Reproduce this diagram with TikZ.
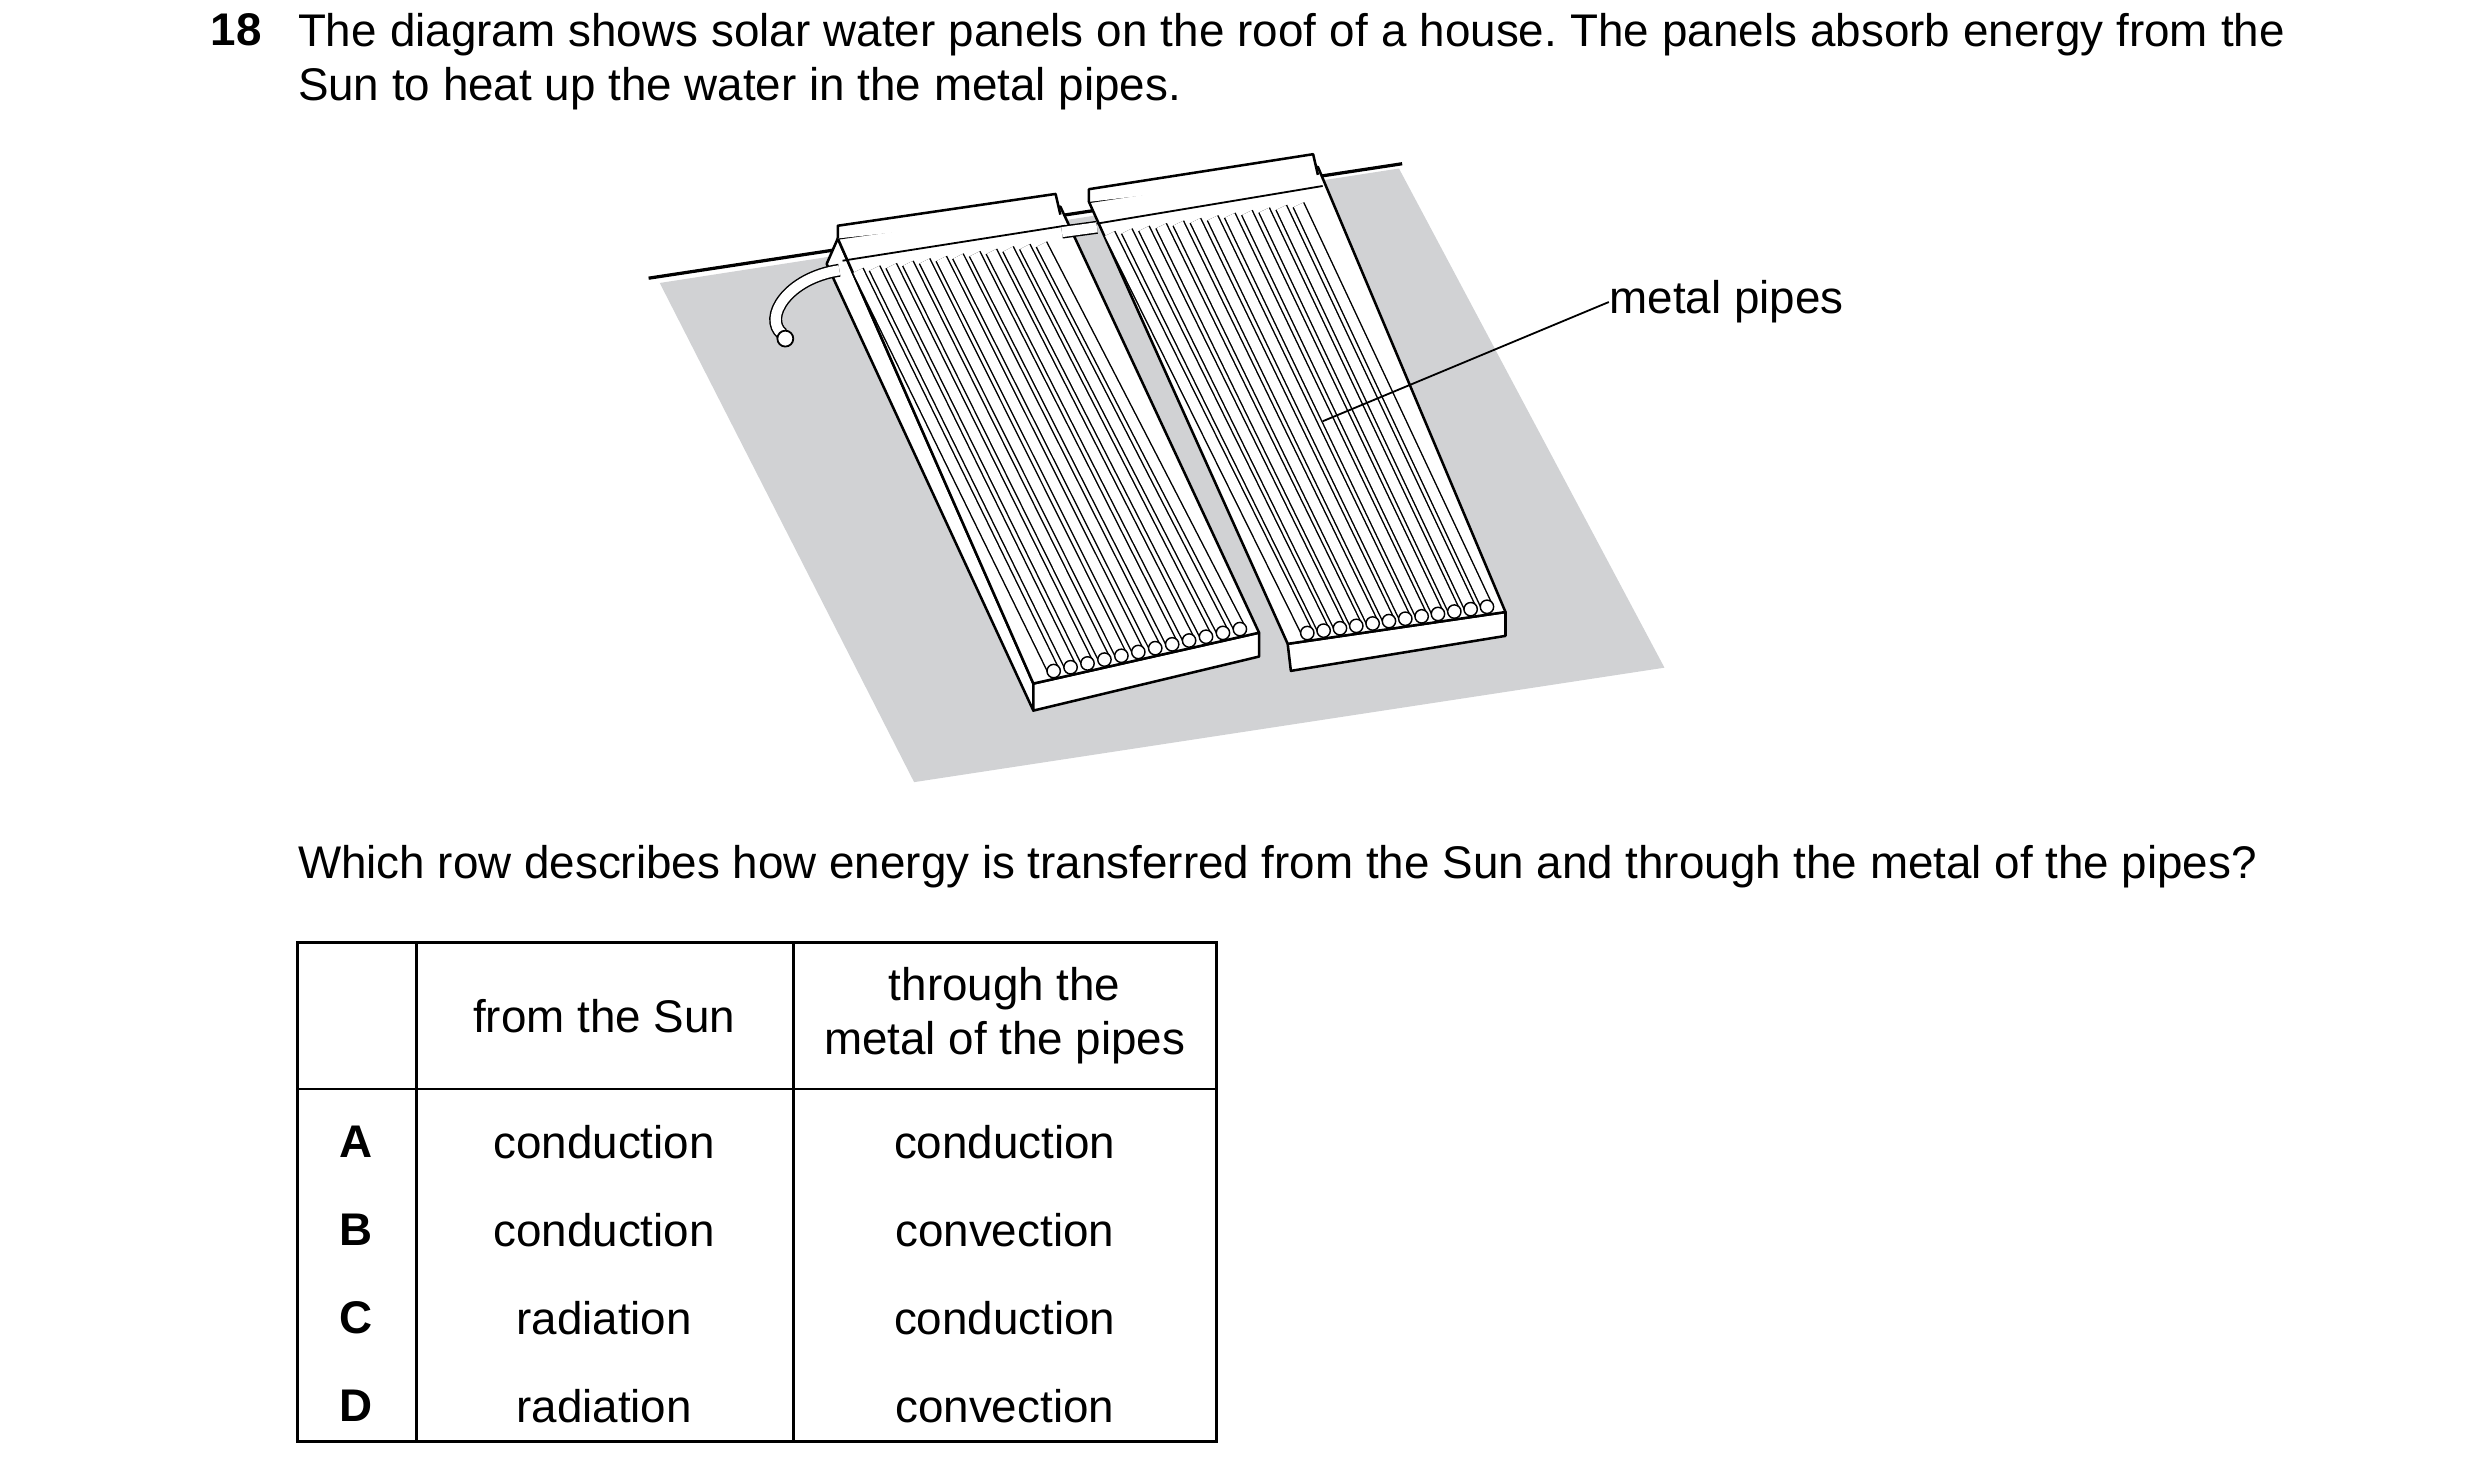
\documentclass[tikz,border=0pt]{standalone}
\usepackage{fontspec}
\setmainfont{Liberation Sans}
\usetikzlibrary{positioning,calc}
\definecolor{roof}{RGB}{209,210,212}
\tikzset{
  txt/.style={anchor=north west,inner sep=0pt,font=\fontsize{12.7}{15}\selectfont},
  cell/.style={inner sep=0pt,font=\fontsize{12.7}{15}\selectfont,align=center},
  pipe/.style={double=white,double distance=2.8pt,line width=0.4pt},
  slab/.style={fill=white,draw=black,line width=0.7pt,line join=round}
}
\newcommand{\panelpipes}[4]{%
  \foreach \t in {0.09,0.165,...,0.94}{
    \draw[pipe] ($(#1)!\t!(#2)+(0,22)$) -- ($(#4)!\t!(#3)+(0,-5)$);
    \draw[line width=0.4pt,fill=white] ($(#4)!\t!(#3)+(0,-5)$) circle (4.2);
  }}
\begin{document}
\frenchspacing
\begin{tikzpicture}[x=0.0155cm,y=-0.0155cm]
\useasboundingbox (0,0) rectangle (1560,927);

% question
\node[txt,font=\fontsize{12.7}{15}\selectfont\bfseries] (num) at (132,8) {18};
\node[txt,text width=1250*0.0155cm,align=justify] (intro) at (187,8)
  {The diagram shows solar water panels on the roof of a house. The panels absorb energy from the Sun to heat up the water in the metal pipes.};

% roof
\fill[roof] (415,178) -- (880,106) -- (1047,420) -- (575,492) -- cycle;
\draw[line width=0.9pt] (408,175) -- (882,103);

% panel 1
\coordinate (a1) at (527,150); \coordinate (b1) at (667,130);
\coordinate (c1) at (792,398); \coordinate (d1) at (650,430);
\draw[slab] (a1) -- ($(a1)+(-7,16)$) -- ($(d1)+(0,17)$) -- (d1) -- cycle;
\draw[slab] (d1) -- (c1) -- ($(c1)+(0,15)$) -- ($(d1)+(0,17)$) -- cycle;
\draw[slab] (a1) -- (b1) -- (c1) -- (d1) -- cycle;
\draw[slab] (a1) -- ($(a1)+(0,-8)$) -- ($(b1)+(-3,-8)$) -- ($(b1)+(0,5)$);
\draw[line width=0.5pt] ($(a1)+(3,14)$) -- ($(b1)+(3,12)$);
\panelpipes{a1}{b1}{c1}{d1}

% panel 2
\coordinate (a2) at (685,127); \coordinate (b2) at (829,105);
\coordinate (c2) at (947,385); \coordinate (d2) at (810,405);
\draw[slab] (d2) -- (c2) -- ($(c2)+(0,15)$) -- ($(d2)+(2,17)$) -- cycle;
\draw[slab] (a2) -- (b2) -- (c2) -- (d2) -- cycle;
\draw[slab] (a2) -- ($(a2)+(0,-8)$) -- ($(b2)+(-3,-8)$) -- ($(b2)+(0,5)$);
\draw[line width=0.5pt] ($(a2)+(3,14)$) -- ($(b2)+(3,12)$);
\panelpipes{a2}{b2}{c2}{d2}

% connectors
\draw[pipe] (668,146) -- (690,143);
\draw[pipe] (528,170) .. controls (495,175) and (480,200) .. (492,210);
\draw[line width=0.5pt,fill=white] (494,213) circle (5);

% label
\node[txt,anchor=west] (lbl) at (1012,190) {metal pipes};
\coordinate (tip) at (832,265);
\draw[line width=0.5pt] (lbl.west) -- (tip);

\node[txt] (ask) at (187,531) {Which row describes how energy is transferred from the Sun and through the metal of the pipes?};

% table
\draw[line width=0.8pt] (187,593) rectangle (765,907);
\draw[line width=0.8pt] (187,685) -- (765,685);
\draw[line width=0.8pt] (262,593) -- (262,907);
\draw[line width=0.8pt] (499,593) -- (499,907);
\node[cell] (h1) at (380,639) {from the Sun};
\node[cell] (h2) at (632,639) {through the\\metal of the pipes};
\foreach \l/\s/\m [count=\i] in {A/conduction/conduction,B/conduction/convection,C/radiation/conduction,D/radiation/convection}{
  \node[cell,font=\fontsize{12.7}{15}\selectfont\bfseries] (r\i) at (224,663+55.3*\i) {\l};
  \node[cell] (s\i) at (380,663+55.3*\i) {\s};
  \node[cell] (m\i) at (632,663+55.3*\i) {\m};
}
\end{tikzpicture}
\end{document}
